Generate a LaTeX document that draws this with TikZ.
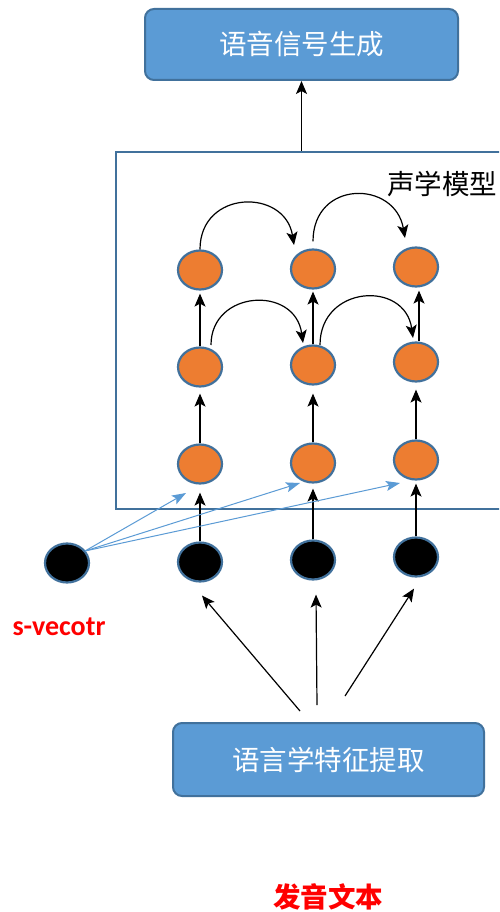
\documentclass[tikz,border=0pt]{standalone}
\usepackage{fontspec}
\setsansfont{Carlito}
\newfontfamily\cjk{Noto Sans CJK SC}
\usetikzlibrary{arrows.meta,shapes.geometric,calc}
\definecolor{boxblue}{HTML}{5B9BD5}
\definecolor{edgeblue}{HTML}{41719C}
\definecolor{orng}{HTML}{ED7D31}
\begin{document}
\begin{tikzpicture}[x=1pt,y=-1pt,
  bigbox/.style={rounded corners=9pt, draw=edgeblue, line width=2pt, fill=boxblue,
    text=white, font=\cjk\fontsize{27.5}{30}\selectfont, inner sep=0pt},
  onode/.style={ellipse, draw=edgeblue, line width=2.2pt, fill=orng,
    minimum width=44pt, minimum height=39pt, inner sep=0pt},
  bnode/.style={ellipse, draw=edgeblue, line width=2.2pt, fill=black,
    minimum width=44pt, minimum height=39pt, inner sep=0pt},
  arr/.style={-{Stealth[length=13pt,width=11pt,inset=3pt]}, line width=1.2pt},
  barr/.style={-{Stealth[length=14pt,width=10pt,inset=3pt]}, line width=1pt, draw=boxblue}]
\clip (0,0) rectangle (499,912);
\fill[white] (0,0) rectangle (499,912);

% boxes
\node[bigbox, minimum width=313pt, minimum height=71pt] (gen) at (301.5,44.5) {语音信号生成};
\node[bigbox, minimum width=311pt, minimum height=73pt] (ling) at (328.5,759.5) {语言学特征提取};
\node[draw=edgeblue, line width=2.5pt, minimum width=394pt, minimum height=357pt, inner sep=0pt] (am) at (313,330.5) {};
\node[font=\cjk\fontsize{27.5}{30}\selectfont, inner sep=0pt] (amlab) at (442,184) {声学模型};

% orange nodes
\node[onode] (t1) at (200,270) {};
\node[onode] (t2) at (313,269) {};
\node[onode] (t3) at (416,267) {};
\node[onode] (m1) at (200,367) {};
\node[onode] (m2) at (313,365) {};
\node[onode] (m3) at (416,362) {};
\node[onode] (o1) at (200,464) {};
\node[onode] (o2) at (313,463) {};
\node[onode] (o3) at (416,460) {};

% black nodes
\node[bnode] (sv) at (67,563) {};
\node[bnode] (b1) at (200,562) {};
\node[bnode] (b2) at (313,560) {};
\node[bnode] (b3) at (416,557) {};

% labels
\node[text=red, font=\sffamily\bfseries\fontsize{28}{30}\selectfont, inner sep=0pt] (svl) at (59,627) {s-vecotr};
\node[text=red, font=\cjk\bfseries\fontsize{27.5}{30}\selectfont, inner sep=0pt] (src) at (328,897) {发音文本};

% top arrow
\draw[arr] (am.north -| gen.south) -- (gen.south);

% vertical arrows
\draw[arr, shorten >=8pt] (b1) -- (o1);
\draw[arr, shorten >=5pt] (b2) -- (o2);
\draw[arr, shorten >=3pt] (b3) -- (o3);
\draw[arr, shorten >=6pt] (o1) -- (m1);
\draw[arr, shorten >=8pt] (o2) -- (m2);
\draw[arr, shorten >=7pt] (o3) -- (m3);
\draw[arr, shorten >=3pt] (m1) -- (t1);
\draw[arr, shorten >=2pt] (m2) -- (t2);
\draw[arr, shorten >=3pt] ($(m3.north)+(3,0)$) -- ($(t3.south)+(3,0)$);

% curved arrows
\draw[arr] (t1.north) .. controls +(0,-60) and +(-9,-57) .. ($(t2)+(-19,-24)$);
\draw[arr] ($(t2.north)+(0,-7)$) .. controls +(0,-62) and +(-10,-58) .. ($(t3)+(-11,-29)$);
\draw[arr] ($(m1)+(11,-22)$) .. controls +(0,-55) and +(-8,-58) .. ($(m2)+(-10,-22)$);
\draw[arr] ($(m2)+(7,-20)$) .. controls +(0,-60) and +(-8,-58) .. ($(m3)+(-3,-24)$);

% s-vector arrows
\draw[barr] ($(sv)+(18,-12)$) -- ($(o1)+(-14,29)$);
\draw[barr] ($(sv)+(18,-12)$) -- ($(o2)+(-13,20)$);
\draw[barr] ($(sv)+(18,-12)$) -- ($(o3)+(-16,23)$);

% lower arrows
\draw[arr] ($(ling.north)+(-28.5,-11)$) -- ($(b1.south)+(2,13)$);
\draw[arr] ($(ling.north)+(-11.5,-17)$) -- ($(b2.south)+(3,14)$);
\draw[arr] ($(ling.north)+(16.5,-26)$) -- ($(b3.south)+(-2,11)$);
\end{tikzpicture}
\end{document}
